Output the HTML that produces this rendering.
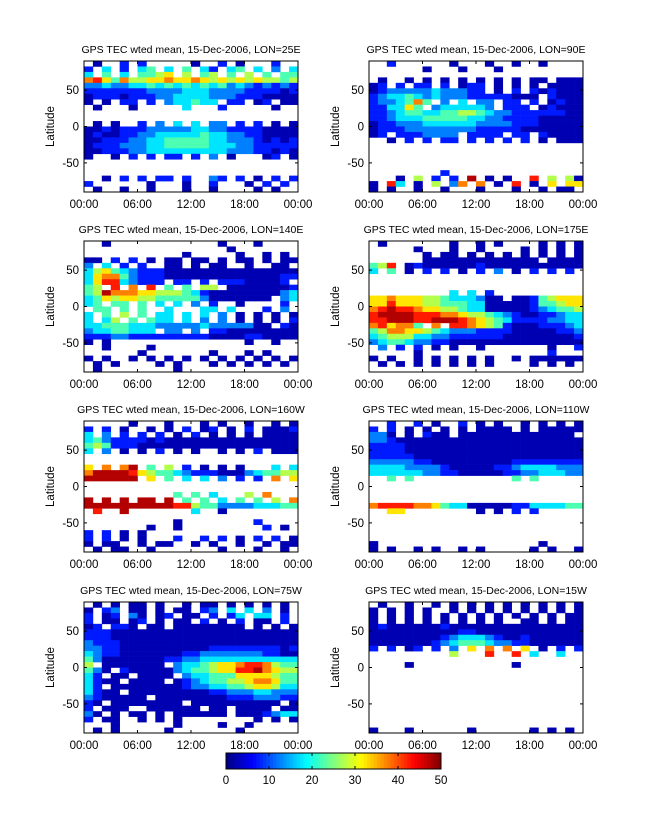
<!DOCTYPE html>
<html><head><meta charset="utf-8">
<style>
body{margin:0;background:#fff;}
svg text{font-family:"Liberation Sans",Arial,sans-serif;fill:#000;}
</style></head>
<body>
<svg id="fig" width="647" height="822" viewBox="0 0 647 822" xmlns="http://www.w3.org/2000/svg">
<rect width="647" height="822" fill="#fff"/>
<g id="panels"></g>
<g id="cbar"></g>
</svg>
<script>
// ---- data ----
const panelTitles = ["LON=25E","LON=90E","LON=140E","LON=175E","LON=160W","LON=110W","LON=75W","LON=15W"];
const xTickLabels = ["00:00","06:00","12:00","18:00","00:00"];
const xTickHours = [0,6,12,18,24];
const yTickValues = [50,0,-50];
const cbarTicks = [0,10,20,30,40,50];
// grid: 24 rows (90 -> -90, 7.5 deg each) x 24 hourly columns; digit d -> TEC d*5+2.5, '-' = no data
const grid25E = ["-0--1-1-----0--1-0---1--","1-3-1-34-3-4-31-34-3-2-3","3-4-3-4456-5-45-4-5-4-44","786475566766765656565545","223223343434343423212121","111111122223332222111101","011101112233332221110000","0-0-11-1-233433-11-01-00","-0---0-----3---1-----0--","------------------------","------------------------","-0-0--1-2-3-3-22-1-1-0-0","001011122222332211110000","010011223333343322110000","001112233444443322210101","011122233444443332211111","001112233333333322211010","0--0-1-1-11-1-2-0---01-0","------------------------","------------------------","------------------------","--0-1-1-11-1--21-1-0-1-1","1------0---0--1---0-1-1-","-0--0--0---0--0----0-0--"];
const grid90E = ["--1------0---0--0--0----","------0---0---0---------","------------------------","-0--0-0-0-0-0-0-0-00-000","01-1-11-1-011-0-0-0-0000","0122222322211-0-1-101000","1233432322211111000-1000","1223474-2-3-22-11-1-0100","113364-2333332-111-01000","112344334455432211111100","112333444443322111100000","011222333333222211100000","011122222222111110000000","01-1112222-1111-11-10000","--0-1-1-11-1-1-1-1-0-000","------------------------","------------------------","------------------------","------------------------","------------------------","--------1---------------","---0-5-1-1-9-0-0--8-5-50","0-83-0-5-27-7-0-8-0-6-66","0-0--0--0---0---0--0-00-"];
const grid140E = ["--0------------0---0----","----------------0-------","-----------0-----0--0-0-","00-1-1-0-00-00-0-00-0-00","2-3-1-1--00-0-00--0--00-","356432111000000000000000","367742111000000000000011","368832111-11-1-11100001-","45-8-7-8-4-4-55-00000001","459777665554310000000023","346566554444420000000-23","34-44-4-3-3-2-1--0----1-","-44-4-4--3---33-3---1-2-","3-4-5-4-33-3-3-2-0-0-0-0","3-35-4-433-3-2-2-0-0-0-1","334443332222232222200-10","23344333-22-2-1100000000","111221111111110000110000","0-0---------------0--0--","--0----0----------------","------0-------0---0-0---","0-0--0-0-0-0-0-0-0-0-0-0","-0-0----0-0---0-0-0-0-0-","-0--------0-------------"];
const grid175E = ["-0-------0--0-0----0-0-0","-----0---0--0----0-0-0-0","------0-00-0-0-0-0-0-0-0","------0000000000000-0000","458-01000000100000000000","3-4-0-1-1-0-1-2-0-1-1-1-","------------------------","------------------------","------------------------","---------3-3-1----------","667666554333200-00145666","668666554443300000144566","789887665543300000123445","899998887765543210011233","889998899987654311112233","786774-7-887654100011123","457766543222111100000112","345553322111111000000001","234432211000000000000000","-2-1-1-0-0--0-------0--1","-----0--------------1---","0-0--0-0-0-0-0--0-000000","-0-0-0-0-0-0-0----0-0-0-","------------------------"];
const grid160W = ["-----0---0---0-0--0--0-0","1-1-0--0-0-1-01-0-1-0001","3-2-1-1-1-0-1-0-0-0-0000","342111101000000000000000","454111000000000000000000","3-2-0-0-1-0-0--0-0-1-000","------------------------","------------------------","6-7-79-4-5-1-0-0-0---3-3","799998654432111000234455","999999-6-4-3-3-2-1-1-7-6","------------------------","------------------------","----------4-4-3---5-7---","9-9-9-99-9-4-4-3-4-4-5-7","999999999988544222233344","-8--9-------3--0--------","------------------------","----------0--------1----","-------0--0---------1-0-","1-1-0-0-----------------","1-1-0-0---1--1-1-0-1-1-0","0-00--0-00--0-0--0--0-00","-0-00--0-------0---0--0-"];
const grid110W = ["--1--1-0--1-0-0--0-0-0-0","1-1-0-0-0-0-0000-0-00000","220-0-100-0000000000000-","221000000000000000000000","111100000000000000000000","111100000000000000000000","111110000000000000000000","222221100000000011111111","333322221000001123333222","333333221100000112233322","--4-4-----------4-4-----","------------------------","------------------------","------------------------","------------------------","788887764330000011333344","--66--------0-0-1-1-----","------------------------","------------------------","------------------------","------------------------","------------------------","0------------------0----","0-0--0-0--0-0-----0-0--0"];
const grid75W = ["-0-0-00-0--0-00-0-0-0-0-","0-12-00-0-00-12-3-3-2-0","1-01-20-01-00-1-13-33-1","1-00-01-0-00-1-0-1-00-1","01-110-00-00000000-0-0-0","111000000000000000000000","111000000000000000000000","211100000000000000000000","221100000000001111111101","321100000001122222221100","420000000112233333333333","5-0000000-23345667887544","420-10000023445668897655","31-00-0000-2334446666544","3100-0000-01234455677644","31-000000001223344566533","3100-00000000011222332221","2100000-0000000011122211","10-00000000-0000000000-0","1-000--000000-00-0000-00","20-0-00-0-000000-0001233","1-00--0-0-0--------0-0-0","---0------0----0--0-----","-0-0-----0-------0------"];
const grid15W = ["-0--0--0-0-0-0-0-0-0-0-0","0-0-0-0--0-0-0-0-0-0-0-0","0-0-0-0-0-0-0-0-0-0-0-00","0-0-0-0-0-0-0-0--00-0-00","010000001000000000000000","000000000011000000000000","000000001233321001000000","000000012344432211000000","1-1-01-1-2-6-7-7-6-0-1-1","---------5---8--8-3--3--","------------------------","----0-----------0-------","------------------------","------------------------","------------------------","------------------------","------------------------","------------------------","------------------------","------------------------","------------------------","------------------------","------------------------","0---0------0------0-0-0-"];
const panelGrids = [grid25E,grid90E,grid140E,grid175E,grid160W,grid110W,grid75W,grid15W];

// ---- layout ----
const colX = [84, 369], rowY = [61, 241, 421, 602], PW = 214, PH = 131;
const NS = "http://www.w3.org/2000/svg";
function mk(tag, attrs, parent){const e=document.createElementNS(NS,tag);for(const k in attrs)e.setAttribute(k,attrs[k]);parent.appendChild(e);return e;}
function clamp(v){return Math.max(0,Math.min(1,v));}
function jet(v){const t=clamp(v/50);const r=clamp(1.5-Math.abs(4*t-3)),g=clamp(1.5-Math.abs(4*t-2)),b=clamp(1.5-Math.abs(4*t-1));
  return "rgb("+Math.round(r*255)+","+Math.round(g*255)+","+Math.round(b*255)+")";}

const panelsG = document.getElementById("panels");
panelGrids.forEach((grid, p) => {
  const x0 = colX[p%2], y0 = rowY[Math.floor(p/2)];
  const xs = h => x0 + h/24*PW;
  const ys = lat => y0 + (90-lat)/180*PH;
  const g = mk("g",{},panelsG);
  
  
  const nR = grid.length;
  grid.forEach((row, i) => {
    const latTop = 90 - i*180/nR, latBot = 90 - (i+1)*180/nR;
    for (let j=0;j<24;j++){
      const ch = row[j];
      if (!ch || ch==='-') continue;
      const v = (+ch)*5+2.5;
      const c = mk("rect",{x:xs(j).toFixed(2),y:ys(latTop).toFixed(2),width:(xs(j+1)-xs(j)+0.3).toFixed(2),height:(ys(latBot)-ys(latTop)+0.3).toFixed(2),fill:jet(v)},g);
      
      
    }
  });
  const fr = mk("rect",{x:x0,y:y0,width:PW,height:PH,fill:"none",stroke:"#000","stroke-width":1},g);
  
  
  const t = mk("text",{x:x0+PW/2,y:y0-8,"text-anchor":"middle","font-size":"10.5"},g);
  t.textContent = "GPS TEC wted mean, 15-Dec-2006, " + panelTitles[p];
  
  
  xTickHours.forEach((h, k) => {
    mk("line",{x1:xs(h),x2:xs(h),y1:y0+PH,y2:y0+PH-3,stroke:"#000"},g);
    mk("line",{x1:xs(h),x2:xs(h),y1:y0,y2:y0+3,stroke:"#000"},g);
    const tl = mk("text",{x:xs(h),y:y0+PH+16,"text-anchor":"middle","font-size":"11.5"},g);
    tl.textContent = xTickLabels[k];
    
    
  });
  yTickValues.forEach(lat => {
    mk("line",{x1:x0,x2:x0+3,y1:ys(lat),y2:ys(lat),stroke:"#000"},g);
    mk("line",{x1:x0+PW,x2:x0+PW-3,y1:ys(lat),y2:ys(lat),stroke:"#000"},g);
    const yl = mk("text",{x:x0-5,y:ys(lat)+4,"text-anchor":"end","font-size":"11.5"},g);
    yl.textContent = String(lat);
    
    
  });
  const yt = mk("text",{x:0,y:0,"text-anchor":"middle","font-size":"11.5",transform:"translate("+(x0-30)+","+(y0+PH/2)+") rotate(-90)"},g);
  yt.textContent = "Latitude";
  
  
});

// ---- colorbar ----
const cb = document.getElementById("cbar");
const cbX = 226, cbY = 753, cbW = 215, cbH = 16, nSteps = 64;
for (let k=0;k<nSteps;k++){
  const v = (k+0.5)/nSteps*50;
  mk("rect",{x:cbX+k*cbW/nSteps,y:cbY,width:cbW/nSteps+0.4,height:cbH,fill:jet(v)},cb);
}
mk("rect",{x:cbX,y:cbY,width:cbW,height:cbH,fill:"none",stroke:"#000"},cb);
cbarTicks.forEach(v => {
  const x = cbX + v/50*cbW;
  mk("line",{x1:x,x2:x,y1:cbY,y2:cbY+3,stroke:"#000"},cb);
  mk("line",{x1:x,x2:x,y1:cbY+cbH,y2:cbY+cbH-3,stroke:"#000"},cb);
  const l = mk("text",{x:x,y:cbY+cbH+15,"text-anchor":"middle","font-size":"11.5"},cb);
  l.textContent = String(v);
  
  
});
</script>
</body></html>
